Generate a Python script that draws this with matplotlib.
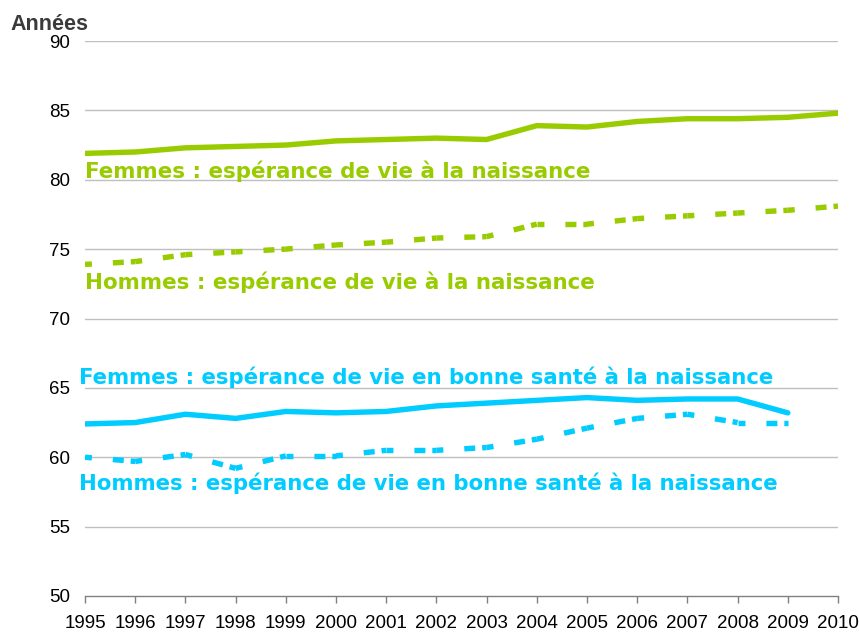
import matplotlib
matplotlib.use("Agg")
import matplotlib.pyplot as plt
import numpy as np

plt.rcParams['font.family'] = ['Liberation Sans', 'DejaVu Sans']
plt.rcParams['lines.scale_dashes'] = False

years = list(range(1995, 2011))
femmes_ev = [81.9, 82.0, 82.3, 82.4, 82.5, 82.8, 82.9, 83.0, 82.9, 83.9, 83.8, 84.2, 84.4, 84.4, 84.5, 84.8]
hommes_ev = [73.9, 74.1, 74.6, 74.8, 75.0, 75.3, 75.5, 75.8, 75.9, 76.8, 76.8, 77.2, 77.4, 77.6, 77.8, 78.1]
years_bs = list(range(1995, 2010))
femmes_bs = [62.4, 62.5, 63.1, 62.8, 63.3, 63.2, 63.3, 63.7, 63.9, 64.1, 64.3, 64.1, 64.2, 64.2, 63.2]
hommes_bs = [60.0, 59.7, 60.2, 59.2, 60.1, 60.1, 60.5, 60.5, 60.7, 61.3, 62.1, 62.8, 63.1, 62.5, 62.5]

yticks = [50, 55, 60, 65, 70, 75, 80, 85, 90]

labels = {
    'fe': "Femmes : espérance de vie à la naissance",
    'he': "Hommes : espérance de vie à la naissance",
    'fb': "Femmes : espérance de vie en bonne santé à la naissance",
    'hb': "Hommes : espérance de vie en bonne santé à la naissance",
}

GREEN = '#99CC00'
CYAN = '#00CCFF'

W, H = 859, 633
fig = plt.figure(figsize=(W / 100, H / 100), dpi=100)
ax = fig.add_axes([85 / W, 1 - 596 / H, (838 - 85) / W, (596 - 41) / H])
ax.set_xlim(1995, 2010)
ax.set_ylim(50, 90)

for y in yticks[1:]:
    ax.axhline(y, color='#BFBFBF', lw=1.0, zorder=1)

for s in ['top', 'right', 'left']:
    ax.spines[s].set_visible(False)
ax.spines['bottom'].set_color('#808080')
ax.spines['bottom'].set_linewidth(1.0)

ax.set_yticks(yticks)
ax.set_yticklabels([str(v) for v in yticks], fontsize=13.5)
ax.tick_params(axis='y', length=0, pad=11)
ax.set_xticks(years)
ax.set_xticklabels([str(v) for v in years], fontsize=13.5)
ax.tick_params(axis='x', length=5, width=1, color='#808080', pad=9)

lw = 3.9
ax.plot(years, femmes_ev, color=GREEN, lw=lw, solid_capstyle='round', solid_joinstyle='round', zorder=3)
ax.plot(years_bs, femmes_bs, color=CYAN, lw=lw, solid_capstyle='round', solid_joinstyle='round', zorder=3)

dash = (0, (5.0, 15.1, 7.9, 5.0, 60, 1))

def dashed(xs, ys, color):
    for i in range(len(xs) - 1):
        ax.plot(xs[i:i + 2], ys[i:i + 2], color=color, lw=lw, linestyle=dash,
                dash_capstyle='butt', zorder=3)

dashed(years, hommes_ev, GREEN)
dashed(years_bs, hommes_bs, CYAN)

def lab(text, x, y, color, size):
    fig.text(x / W, 1 - y / H, text, color=color, fontsize=size, fontweight='bold',
             family=['DejaVu Sans'], ha='left', va='baseline')

lab(labels['fe'], 85, 178, GREEN, 15.4)
lab(labels['he'], 85, 288.5, GREEN, 15.4)
lab(labels['fb'], 79, 383.5, CYAN, 15.3)
lab(labels['hb'], 79, 490.5, CYAN, 15.3)

fig.text(10 / W, 1 - 30 / H, "Années", fontsize=15.5, fontweight='bold', color='#3a3a3a',
         ha='left', va='baseline')

fig.savefig('out.png', dpi=100)
